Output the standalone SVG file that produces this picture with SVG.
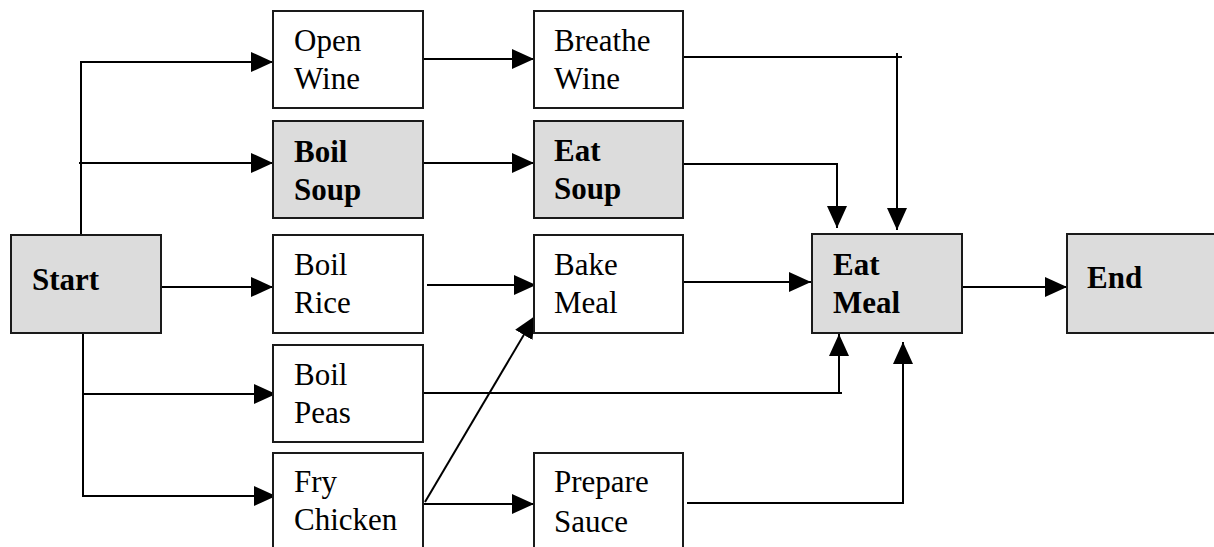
<svg xmlns="http://www.w3.org/2000/svg" width="1214" height="547" viewBox="0 0 1214 547">
  <style>
    .box { fill: #ffffff; stroke: #1a1a1a; stroke-width: 2; }
    .key { fill: #dcdcdc; }
    .lbl { font-family: "Liberation Serif", "Times New Roman", serif; font-size: 31px; fill: #000; }
    .bold { font-weight: bold; }
    .wire { fill: none; stroke: #000; stroke-width: 2; }
  </style>
  <defs>
    <marker id="head" markerUnits="userSpaceOnUse" markerWidth="22" markerHeight="20" refX="22" refY="10" orient="auto">
      <path d="M0,0 L22,10 L0,20 Z" fill="#000"/>
    </marker>
  </defs>
  <rect width="1214" height="547" fill="#ffffff"/>

  <g id="connectors">
    <path class="wire" d="M81,235 V62 H273" marker-end="url(#head)"/>
    <path class="wire" d="M79,163 H273" marker-end="url(#head)"/>
    <path class="wire" d="M161,287 H273" marker-end="url(#head)"/>
    <path class="wire" d="M83,333 V496 H276" marker-end="url(#head)"/>
    <path class="wire" d="M83,394 H276" marker-end="url(#head)"/>
    <path class="wire" d="M423,59 H534" marker-end="url(#head)"/>
    <path class="wire" d="M423,163 H534" marker-end="url(#head)"/>
    <path class="wire" d="M683,57 H902"/>
    <path class="wire" d="M897,53 V230" marker-end="url(#head)"/>
    <path class="wire" d="M683,164 H837 V228" marker-end="url(#head)"/>
    <path class="wire" d="M427,285 H536" marker-end="url(#head)"/>
    <path class="wire" d="M683,282 H811" marker-end="url(#head)"/>
    <path class="wire" d="M962,287 H1067" marker-end="url(#head)"/>
    <path class="wire" d="M423,393 H842"/>
    <path class="wire" d="M839,393 V334" marker-end="url(#head)"/>
    <path class="wire" d="M425,502 L535,316" marker-end="url(#head)"/>
    <path class="wire" d="M423,504 H534" marker-end="url(#head)"/>
    <path class="wire" d="M687,503 H903 V342" marker-end="url(#head)"/>
  </g>

  <g id="start">
    <rect class="box key" x="11" y="235" width="150" height="98"/>
    <text class="lbl bold" x="32" y="290">Start</text>
  </g>
  <g id="open-wine">
    <rect class="box" x="273" y="11" width="150" height="97"/>
    <text class="lbl" x="294" y="51">Open</text>
    <text class="lbl" x="294" y="89">Wine</text>
  </g>
  <g id="boil-soup">
    <rect class="box key" x="273" y="121" width="150" height="97"/>
    <text class="lbl bold" x="294" y="162">Boil</text>
    <text class="lbl bold" x="294" y="200">Soup</text>
  </g>
  <g id="boil-rice">
    <rect class="box" x="273" y="235" width="150" height="98"/>
    <text class="lbl" x="294" y="275">Boil</text>
    <text class="lbl" x="294" y="313">Rice</text>
  </g>
  <g id="boil-peas">
    <rect class="box" x="273" y="345" width="150" height="97"/>
    <text class="lbl" x="294" y="385">Boil</text>
    <text class="lbl" x="294" y="423">Peas</text>
  </g>
  <g id="fry-chicken">
    <rect class="box" x="273" y="453" width="150" height="100"/>
    <text class="lbl" x="294" y="492">Fry</text>
    <text class="lbl" x="294" y="530">Chicken</text>
  </g>
  <g id="breathe-wine">
    <rect class="box" x="534" y="11" width="149" height="97"/>
    <text class="lbl" x="554" y="51">Breathe</text>
    <text class="lbl" x="554" y="89">Wine</text>
  </g>
  <g id="eat-soup">
    <rect class="box key" x="534" y="121" width="149" height="97"/>
    <text class="lbl bold" x="554" y="161">Eat</text>
    <text class="lbl bold" x="554" y="199">Soup</text>
  </g>
  <g id="bake-meal">
    <rect class="box" x="534" y="235" width="149" height="98"/>
    <text class="lbl" x="554" y="275">Bake</text>
    <text class="lbl" x="554" y="313">Meal</text>
  </g>
  <g id="prepare-sauce">
    <rect class="box" x="534" y="453" width="149" height="100"/>
    <text class="lbl" x="554" y="492">Prepare</text>
    <text class="lbl" x="554" y="532">Sauce</text>
  </g>
  <g id="eat-meal">
    <rect class="box key" x="812" y="234" width="150" height="99"/>
    <text class="lbl bold" x="833" y="275">Eat</text>
    <text class="lbl bold" x="833" y="313">Meal</text>
  </g>
  <g id="end">
    <rect class="box key" x="1067" y="234" width="160" height="99"/>
    <text class="lbl bold" x="1087" y="288">End</text>
  </g>
</svg>
